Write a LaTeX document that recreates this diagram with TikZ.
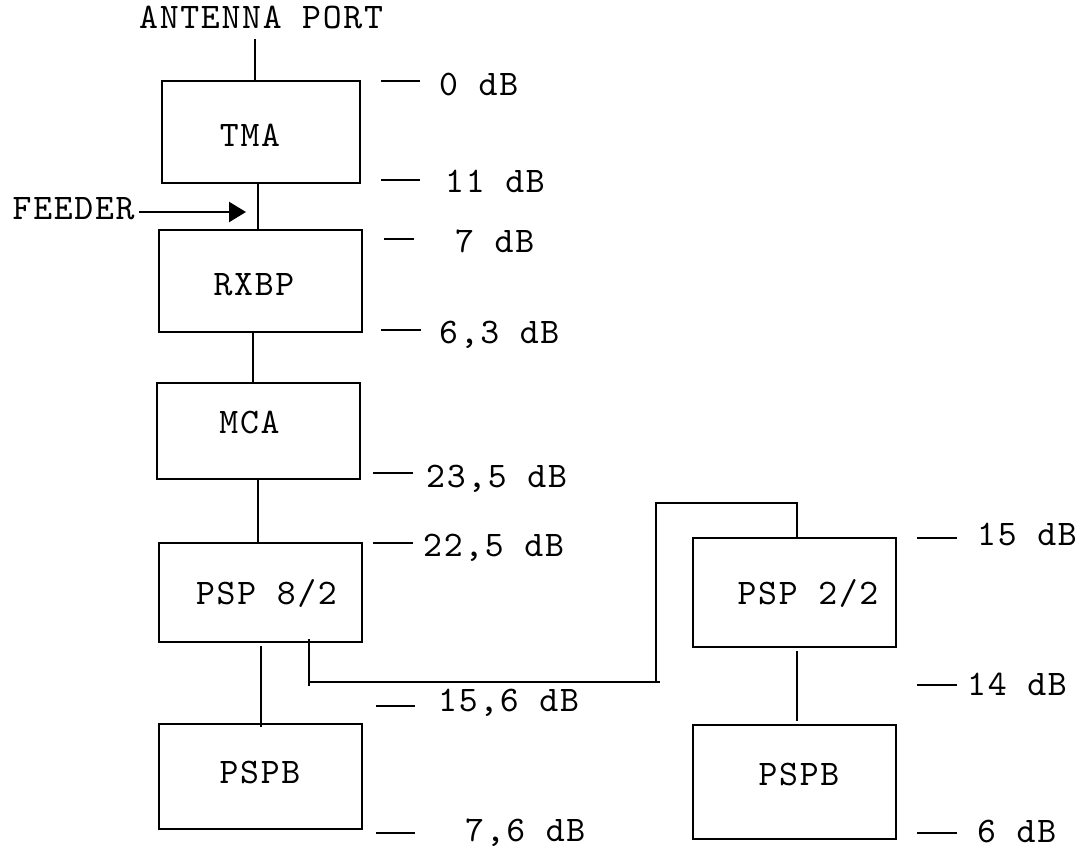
\documentclass[tikz,border=0pt]{standalone}
\usepackage{fontspec}
\newfontfamily\lmtt[LetterSpace=4.7]{lmmono10-regular.otf}
\usetikzlibrary{arrows.meta}
\begin{document}
\begin{tikzpicture}[x=1pt,y=-1pt,
  box/.style={draw,line width=2.8pt,inner sep=0pt,rectangle},
  conn/.style={line width=2.4pt},
  tick/.style={line width=2.8pt},
  txt/.style={anchor=base west,inner sep=0pt,font=\lmtt\fontsize{36}{40}\selectfont},
  lbl/.style={anchor=base,inner sep=0pt,font=\lmtt\fontsize{36}{40}\selectfont}]
\useasboundingbox (0,0) rectangle (1082,849);
% boxes
\node[box,minimum width=198pt,minimum height=102pt] (tma) at (261,132) {};
\node[box,minimum width=203pt,minimum height=102pt] (rxbp) at (260.5,281) {};
\node[box,minimum width=203pt,minimum height=96pt] (mca) at (258.5,431) {};
\node[box,minimum width=203pt,minimum height=99pt] (psp82) at (260.5,592.5) {};
\node[box,minimum width=203pt,minimum height=105pt] (pspb1) at (260.5,776.5) {};
\node[box,minimum width=203pt,minimum height=109pt] (psp22) at (794.5,592.5) {};
\node[box,minimum width=203pt,minimum height=114pt] (pspb2) at (794.5,782) {};
% box labels
\node[lbl] (ltma) at (250,146) {TMA};
\node[lbl] (lrxbp) at (254,295) {RXBP};
\node[lbl] (lmca) at (249.5,433) {MCA};
\node[lbl] (lpsp82) at (266.5,604) {PSP 8/2};
\node[lbl] (lpspb1) at (260,783) {PSPB};
\node[lbl] (lpsp22) at (808,604) {PSP 2/2};
\node[lbl] (lpspb2) at (799,785) {PSPB};
% top labels
\node[txt] (ant) at (139,28) {ANTENNA PORT};
\node[txt] (feeder) at (12.5,219) {FEEDER};
\coordinate (antend) at (255,39);
\coordinate (feedtail) at (139,212);
\coordinate (feedtip) at (246,212);
% connectors
\draw[conn] (antend) -- (antend |- tma.north);
\draw[conn] ([xshift=-3pt]tma.south) -- ([xshift=-3pt]tma.south |- rxbp.north);
\draw[conn] ([xshift=-7.5pt]rxbp.south) -- ([xshift=-7.5pt]rxbp.south |- mca.north);
\draw[conn] ([xshift=-0.5pt]mca.south) -- ([xshift=-0.5pt]mca.south |- psp82.north);
\draw[conn] ([xshift=0.5pt,yshift=-3pt]psp82.south) -- ([xshift=0.5pt,yshift=-4pt]psp82.south |- pspb1.north);
\draw[conn] ([xshift=2.5pt,yshift=-3pt]psp22.south) -- ([xshift=2.5pt,yshift=3pt]psp22.south |- pspb2.north);
\draw[conn,-{Triangle[length=17pt,width=20pt]}] (feedtail) -- (feedtip);
% branch from PSP 8/2 to PSP 2/2
\coordinate (b0) at (309,639);
\coordinate (b1) at (309,682);
\coordinate (b2) at (656,682);
\coordinate (b3) at (656,503);
\coordinate (b4) at (797,503);
\draw[conn] (b0) -- ++(0,47);
\draw[conn] (b1) -- ([xshift=4pt]b2);
\draw[conn] (b2) -- (b3) -- (b4) -- (b4 |- psp22.north);
% level ticks
\coordinate (t0) at (381,81);
\coordinate (t1) at (381,180);
\coordinate (t2) at (384,239);
\coordinate (t3) at (381,330);
\coordinate (t4) at (373,473);
\coordinate (t5) at (373,543);
\coordinate (t6) at (376,706);
\coordinate (t7) at (376,833);
\coordinate (t8) at (917,538);
\coordinate (t9) at (917,685);
\coordinate (t10) at (917,833);
\draw[tick] (t0) -- ++(39,0);
\draw[tick] (t1) -- ++(39,0);
\draw[tick] (t2) -- ++(30,0);
\draw[tick] (t3) -- ++(40,0);
\draw[tick] (t4) -- ++(40,0);
\draw[tick] (t5) -- ++(40,0);
\draw[tick] (t6) -- ++(39,0);
\draw[tick] (t7) -- ++(39,0);
\draw[tick] (t8) -- ++(40,0);
\draw[tick] (t9) -- ++(40,0);
\draw[tick] (t10) -- ++(40,0);
% level labels
\node[txt] (d0) at (439,95) {0 dB};
\node[txt] (d1) at (445,192) {11 dB};
\node[txt] (d2) at (455,252) {7 dB};
\node[txt] (d3) at (439,343) {6,3 dB};
\node[txt] (d4) at (426,487) {23,5 dB};
\node[txt] (d5) at (423,556) {22,5 dB};
\node[txt] (d6) at (438,711) {15,6 dB};
\node[txt] (d7) at (465,841) {7,6 dB};
\node[txt] (d8) at (977,545) {15 dB};
\node[txt] (d9) at (967,695) {14 dB};
\node[txt] (d10) at (977,842) {6 dB};
\end{tikzpicture}
\end{document}
